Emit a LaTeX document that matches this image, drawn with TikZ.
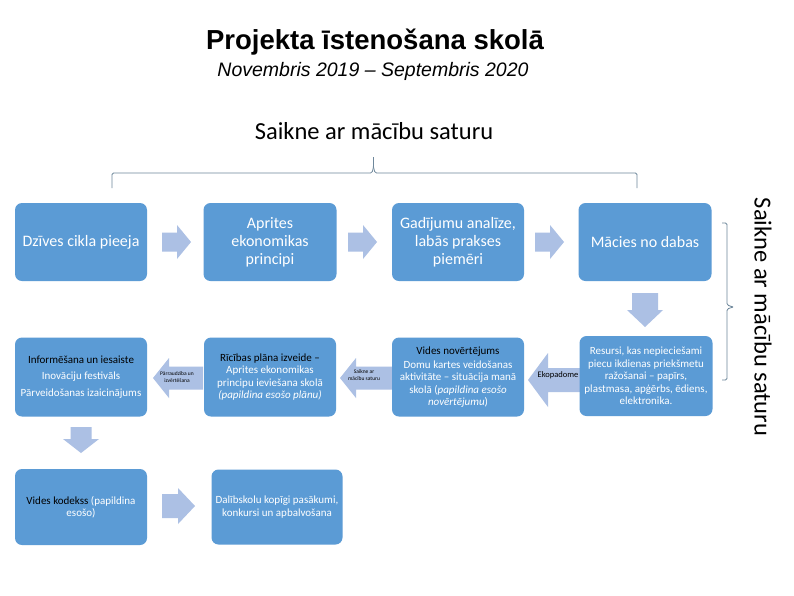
\documentclass[tikz,border=0pt]{standalone}
\usepackage{fontspec}
\setmainfont{Carlito}
\newfontfamily\arialfont{Liberation Sans}
\definecolor{boxblue}{RGB}{91,155,213}
\definecolor{arrowblue}{RGB}{172,192,228}
\definecolor{bracecol}{RGB}{110,135,155}
% horizontal block arrow: x0, xhead, xtip, ycentre, shaft half, head half
\newcommand\harrow[6]{\fill[arrowblue] (#1,{#4-#5}) -- (#2,{#4-#5}) -- (#2,{#4-#6}) -- (#3,#4) -- (#2,{#4+#6}) -- (#2,{#4+#5}) -- (#1,{#4+#5}) -- cycle;}
% vertical block arrow: xcentre, y0, yhead, ytip, shaft half, head half
\newcommand\varrow[6]{\fill[arrowblue] ({#1-#5},#2) -- ({#1-#5},#3) -- ({#1-#6},#3) -- (#1,#4) -- ({#1+#6},#3) -- ({#1+#5},#3) -- ({#1+#5},#2) -- cycle;}
\tikzset{
  bluebox/.style={fill=boxblue, rounded corners=7pt, inner sep=0pt, align=center, text=white},
  bigtext/.style={font=\fontsize{16}{18}\selectfont},
  smalltext/.style={font=\fontsize{11}{12.5}\selectfont},
  tinytext/.style={font=\fontsize{5.5}{6.5}\selectfont, align=center, text=black, inner sep=0pt},
  bracestyle/.style={draw=bracecol, line width=0.8pt, rounded corners=1.5pt}
}
\begin{document}
\begin{tikzpicture}[x=1pt,y=-1pt]
\useasboundingbox (0,0) rectangle (794,595);
\fill[white] (0,0) rectangle (794,595);

% titles
\node[anchor=base, font=\arialfont\bfseries\fontsize{27.5}{32}\selectfont] (title) at (375,49) {Projekta īstenošana skolā};
\node[anchor=base, font=\arialfont\itshape\fontsize{19.5}{23}\selectfont] (subtitle) at (373,76) {Novembris 2019 – Septembris 2020};
\node[anchor=base, font=\fontsize{24.5}{28}\selectfont] (saikne) at (374,139) {Saikne ar mācību saturu};

% top bracket
\draw[bracestyle] (112,188) -- (112,173) -- (372,173) -- (373.5,167) -- (373.5,157);
\draw[bracestyle] (637,188) -- (637,173) -- (375,173) -- (373.5,167);

% right bracket
\draw[bracestyle] (722,223) -- (727,223) -- (727,305) -- (733,307);
\draw[bracestyle] (733,307) -- (727,309) -- (727,380) -- (722,380);
\node[rotate=-90, font=\fontsize{24.5}{28}\selectfont] (saikneV) at (763,317) {Saikne ar mācību saturu};

% block arrows
\harrow{162}{177}{191}{242}{9.5}{17}
\harrow{348}{363}{377}{242}{9.5}{17}
\harrow{535}{550}{564}{242}{9.5}{17}
\harrow{162}{178}{195}{506}{12}{18}
\harrow{203}{169}{153}{378}{11.5}{20}
\harrow{392}{356}{340}{378}{11.5}{20}
\harrow{583}{548}{528}{380}{12}{27}
\varrow{81}{427}{439}{453}{10.5}{18}
\varrow{645}{293}{310}{327}{13}{18}

% row 1
\node[bluebox, bigtext, minimum width=132pt, minimum height=78pt] (b1) at (81,242) {Dzīves cikla pieeja};
\node[bluebox, bigtext, minimum width=133pt, minimum height=78pt] (b2) at (270,242) {Aprites\\ekonomikas\\principi};
\node[bluebox, bigtext, minimum width=132pt, minimum height=78pt] (b3) at (458,242) {Gadījumu analīze,\\labās prakses\\piemēri};
\node[bluebox, bigtext, minimum width=133pt, minimum height=78pt] (b4) at (645,242) {Mācies no dabas};

% row 2
\node[bluebox, font=\fontsize{11}{16.5}\selectfont, minimum width=132pt, minimum height=79pt] (b5) at (81,377) {\textcolor{black}{Informēšana un iesaiste}\\Inovāciju festivāls\\Pārveidošanas izaicinājums};
\node[bluebox, smalltext, minimum width=132pt, minimum height=79pt] (b6) at (270,377) {\textcolor{black}{Rīcības plāna izveide –}\\Aprites ekonomikas\\principu ieviešana skolā\\\textit{(papildina esošo plānu)}};
\node[bluebox, smalltext, minimum width=132pt, minimum height=79pt] (b7) at (458,377) {\textcolor{black}{Vides novērtējums}\\[1.5pt]Domu kartes veidošanas\\aktivitāte – situācija manā\\skolā (\textit{papildina esošo}\\\textit{novērtējumu})};
\node[bluebox, smalltext, minimum width=133pt, minimum height=80pt] (b8) at (646,376) {Resursi, kas nepieciešami\\piecu ikdienas priekšmetu\\ražošanai – papīrs,\\plastmasa, apģērbs, ēdiens,\\elektronika.};

% row 3
\node[bluebox, smalltext, minimum width=132pt, minimum height=76pt] (b9) at (81,507) {\textcolor{black}{Vides kodekss} (papildina\\esošo)};
\node[bluebox, smalltext, minimum width=131pt, minimum height=75pt] (b10) at (277,507) {Dalībskolu kopīgi pasākumi,\\konkursi un apbalvošana};

% arrow labels
\node[tinytext] (l1) at (177,377) {Pārraudzība un\\izvērtēšana};
\node[tinytext] (l2) at (364,375) {Saikne ar\\mācību saturu};
\node[tinytext, font=\fontsize{8.5}{10}\selectfont] (l3) at (558,375) {Ekopadome};
\end{tikzpicture}
\end{document}
